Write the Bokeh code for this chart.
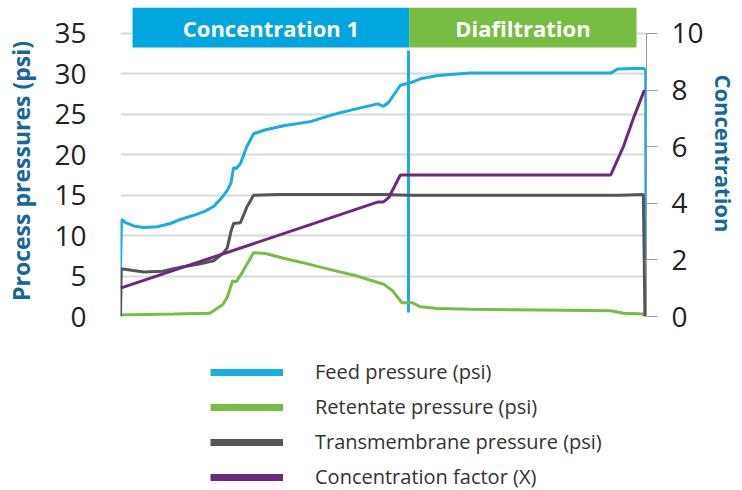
from bokeh.plotting import figure
from bokeh.layouts import column
from bokeh.models import Range1d, LinearAxis, FixedTicker, Legend, LegendItem
from bokeh.core.properties import value
from bokeh.embed import file_html
from bokeh.resources import INLINE

# ---- data (time in % of run, pressures in psi, concentration factor X) ----
feed_t = [0.0, 0.2, 1.0, 2.5, 4.4, 7.0, 9.5, 11.4, 14.3, 16.0, 17.7, 19.0, 20.3, 21.0, 21.5, 22.0,
          22.8, 24.0, 25.3, 27.6, 31.0, 36.1, 40.5, 45.6, 48.9, 50.0, 51.0, 53.2, 55.1, 57.0, 60.3,
          66.5, 75.0, 93.2, 94.5, 99.4, 99.85, 99.9]
feed_p = [6.0, 12.0, 11.6, 11.2, 11.0, 11.1, 11.5, 12.0, 12.6, 13.0, 13.6, 14.5, 15.6, 16.5, 18.4, 18.3,
          18.9, 21.0, 22.6, 23.1, 23.6, 24.1, 25.0, 25.8, 26.3, 26.0, 26.5, 28.6, 28.9, 29.4, 29.8,
          30.1, 30.1, 30.1, 30.6, 30.7, 30.5, 7.0]

ret_t = [0.0, 10.0, 17.0, 17.7, 19.5, 20.3, 21.3, 22.0, 23.0, 24.5, 25.3, 27.6, 31.0, 35.0, 40.5,
         45.0, 48.9, 50.0, 51.7, 53.5, 55.5, 57.0, 60.3, 66.5, 80.0, 93.2, 95.6, 99.4, 99.7]
ret_p = [0.2, 0.3, 0.4, 0.7, 1.5, 2.4, 4.4, 4.3, 5.3, 7.0, 7.9, 7.8, 7.2, 6.6, 5.7,
         5.0, 4.2, 4.0, 3.2, 1.7, 1.7, 1.2, 1.0, 0.9, 0.8, 0.7, 0.4, 0.3, 0.0]

tmp_t = [0.0, 0.15, 4.4, 8.0, 11.4, 15.0, 17.7, 19.5, 20.3, 21.0, 21.5, 22.8, 24.0, 25.3, 30.0,
         50.0, 55.0, 95.0, 99.4, 99.7]
tmp_p = [0.0, 5.9, 5.5, 5.6, 6.1, 6.5, 6.9, 7.8, 8.5, 10.5, 11.5, 11.6, 13.5, 15.0, 15.1,
         15.1, 15.0, 15.0, 15.1, 0.0]

cf_t = [0.0, 49.0, 50.0, 51.0, 53.2, 93.2, 95.6, 97.5, 99.6]
cf_x = [1.0, 4.05, 4.05, 4.2, 5.0, 5.0, 6.0, 7.0, 8.0]

phase_names = ["Concentration 1", "Diafiltration"]
phase_start = [2.3, 54.9]
phase_end = [54.9, 98.1]
phase_switch_t = 54.75

left_ticks = [0, 5, 10, 15, 20, 25, 30, 35]
right_ticks = [0, 2, 4, 6, 8, 10]

series_names = ["Feed pressure (psi)", "Retentate pressure (psi)",
                "Transmembrane pressure (psi)", "Concentration factor (X)"]

BLUE = "#1AACE2"
HEAD_BLUE = "#00A6DD"
GREEN = "#77BC43"
GRAY = "#53575A"
PURPLE = "#6B2B7A"
TITLE = "#17679A"
FONT = "Open Sans"
PAD = "\u00a0\u00a0\u00a0"   # nudges the rotated axis titles down onto the 0-35 span

YMAX = 38.215         # frame extends above 35 to host the phase header
RMAX = YMAX / 3.5     # right axis: 0..10 aligned with 0..35

p = figure(width=742, height=338, output_backend="svg", toolbar_location=None,
           x_range=Range1d(0, 100), y_range=Range1d(0, YMAX),
           min_border_left=120, min_border_right=96, min_border_top=7, min_border_bottom=22)
p.outline_line_color = None
p.xaxis.visible = False
p.xgrid.visible = False

p.yaxis.ticker = FixedTicker(ticks=left_ticks)
p.yaxis.bounds = (0, 35)
p.yaxis.axis_line_color = None
p.yaxis.major_tick_line_color = None
p.yaxis.minor_tick_line_color = None
p.yaxis.major_label_standoff = 28
p.yaxis.major_label_text_font = FONT
p.yaxis.major_label_text_font_size = "28px"
p.yaxis.major_label_text_color = "#222222"
p.yaxis.axis_label = "Process pressures (psi)" + PAD
p.yaxis.axis_label_text_font = FONT
p.yaxis.axis_label_text_font_style = "bold"
p.yaxis.axis_label_text_font_size = "23px"
p.yaxis.axis_label_text_color = TITLE
p.yaxis.axis_label_standoff = 14
p.ygrid.grid_line_color = "#D9D9D9"
p.ygrid.grid_line_width = 2

p.extra_y_ranges = {"conc": Range1d(0, RMAX)}
rax = LinearAxis(y_range_name="conc", bounds=(0, 10), ticker=FixedTicker(ticks=right_ticks))
rax.axis_line_color = "#999999"
rax.major_tick_line_color = "#999999"
rax.major_tick_in = 0
rax.major_tick_out = 11
rax.minor_tick_line_color = None
rax.major_label_standoff = 14
rax.major_label_text_font = FONT
rax.major_label_text_font_size = "28px"
rax.major_label_text_color = "#222222"
rax.axis_label = "Concentration" + PAD
rax.axis_label_text_font = FONT
rax.axis_label_text_font_style = "bold"
rax.axis_label_text_font_size = "22px"
rax.axis_label_text_color = TITLE
rax.axis_label_standoff = 2
p.add_layout(rax, "right")

# phase header
p.quad(left=phase_start, right=phase_end, bottom=33.27, top=YMAX,
       fill_color=[HEAD_BLUE, GREEN], line_color=None)
p.text(x=[(a + b) / 2 for a, b in zip(phase_start, phase_end)], y=[35.7, 35.7], text=phase_names,
       text_font=value(FONT), text_font_style="bold", text_font_size="22px",
       text_color="white", text_align="center", text_baseline="middle")

# data lines
p.line(feed_t, feed_p, line_color=BLUE, line_width=3)
p.segment(x0=[phase_switch_t], y0=[0.5], x1=[phase_switch_t], y1=[32.9], line_color=BLUE, line_width=3)
p.line(ret_t, ret_p, line_color=GREEN, line_width=3)
p.line(tmp_t, tmp_p, line_color=GRAY, line_width=3)
p.line(cf_t, cf_x, line_color=PURPLE, line_width=3, y_range_name="conc")

# legend figure (below the chart)
lg = figure(width=742, height=152, output_backend="svg", toolbar_location=None,
            x_range=Range1d(0, 1), y_range=Range1d(0, 1),
            min_border_left=120, min_border_right=96, min_border_top=0, min_border_bottom=0)
lg.axis.visible = False
lg.grid.visible = False
lg.outline_line_color = None

colors = [BLUE, GREEN, GRAY, PURPLE]
items = []
for name, c in zip(series_names, colors):
    r = lg.line([5, 6], [5, 6], line_color=c, line_width=7)   # off-view proxy for the legend swatch
    items.append(LegendItem(label=name, renderers=[r]))
legend = Legend(items=items, location=(90, 0), orientation="vertical",
                glyph_width=73, glyph_height=20, label_height=20, spacing=8,
                label_standoff=32, padding=0, margin=0,
                border_line_color=None, background_fill_alpha=0,
                label_text_font=FONT, label_text_font_size="20px", label_text_color="#333333")
lg.add_layout(legend)

open("out.html", "w").write(file_html(column(p, lg, spacing=0), INLINE))
